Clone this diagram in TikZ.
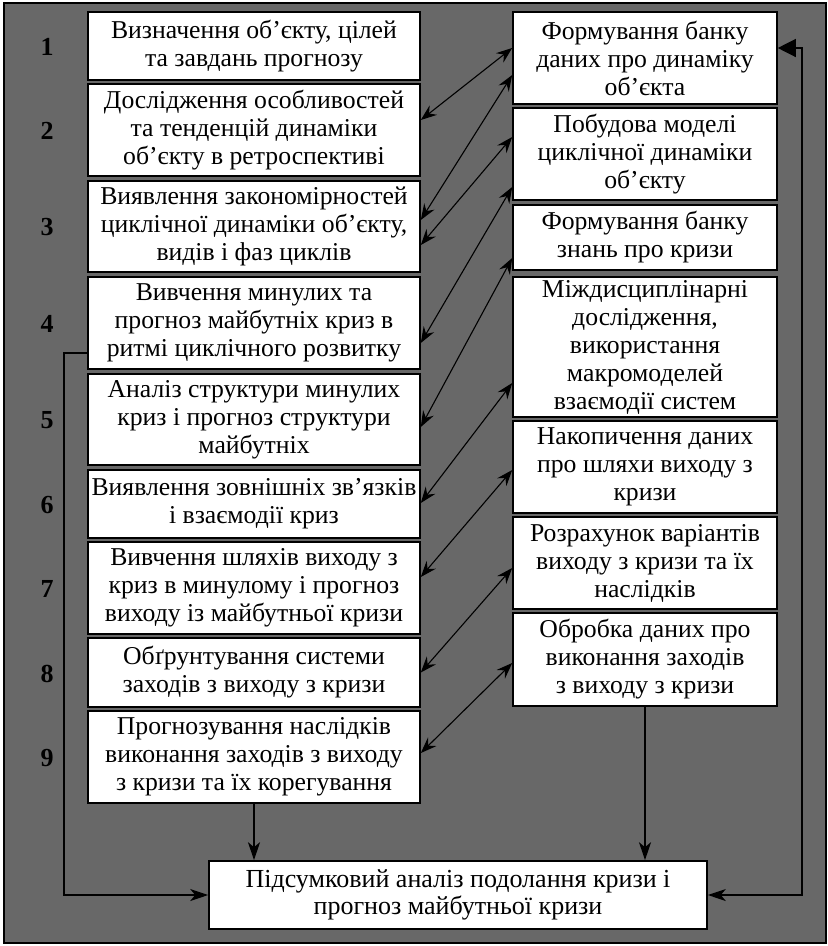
\documentclass[tikz,border=0pt]{standalone}
\usepackage{fontspec}
\setmainfont{Liberation Serif}
\usetikzlibrary{arrows.meta}
\definecolor{bggray}{RGB}{104,104,104}
\begin{document}
\begin{tikzpicture}[x=1pt,y=-1pt,
  box/.style={draw=black, line width=1.6pt, fill=white, align=center, inner sep=0pt,
    font=\fontsize{25.7}{28}\selectfont},
  lbox/.style={box, minimum width=332pt},
  rbox/.style={box, minimum width=264pt},
  num/.style={font=\fontsize{26}{28}\selectfont\bfseries, inner sep=0pt},
  dbl/.style={line width=1.1pt, {Stealth[length=16pt,width=12pt,inset=5.5pt]}-{Stealth[length=16pt,width=12pt,inset=5.5pt]}},
  vline/.style={line width=1.3pt, -{Stealth[length=18pt,width=12pt,inset=5pt]}}
]
\useasboundingbox (0,0) rectangle (828,946);
\fill[white] (0,0) rectangle (828,946);
\draw[fill=bggray, line width=1.5pt] (4,3) rectangle (826,943);

% left boxes
\node[lbox, minimum height=68pt] (B1) at (254,46) {Визначення об’єкту, цілей\\та завдань прогнозу};
\node[lbox, minimum height=92pt] (B2) at (254,130) {Дослідження особливостей\\та тенденцій динаміки\\об’єкту в ретроспективі};
\node[lbox, minimum height=91pt] (B3) at (254,226.5) {Виявлення закономірностей\\циклічної динаміки об’єкту,\\видів і фаз циклів};
\node[lbox, minimum height=92pt] (B4) at (254,323) {Вивчення минулих та\\прогноз майбутніх криз в\\ритмі циклічного розвитку};
\node[lbox, minimum height=91pt] (B5) at (254,419.5) {Аналіз структури минулих\\криз і прогноз структури\\майбутніх};
\node[lbox, minimum height=68pt] (B6) at (254,504) {Виявлення зовнішніх зв’язків\\і взаємодії криз};
\node[lbox, minimum height=92pt] (B7) at (254,588) {Вивчення шляхів виходу з\\криз в минулому і прогноз\\виходу із майбутньої кризи};
\node[lbox, minimum height=69pt] (B8) at (254,672.5) {Обґрунтування системи\\заходів з виходу з кризи};
\node[lbox, minimum height=92pt] (B9) at (254,757) {Прогнозування наслідків\\виконання заходів з виходу\\з кризи та їх корегування};

% numbers
\node[num] (n1) at (47,47) {1};
\node[num] (n2) at (47,131) {2};
\node[num] (n3) at (47,227.5) {3};
\node[num] (n4) at (47,324) {4};
\node[num] (n5) at (47,420.5) {5};
\node[num] (n6) at (47,505) {6};
\node[num] (n7) at (47,589) {7};
\node[num] (n8) at (47,673.5) {8};
\node[num] (n9) at (47,758) {9};

% right boxes
\node[rbox, minimum height=92pt] (R1) at (645,58) {Формування банку\\даних про динаміку\\об’єкта};
\node[rbox, minimum height=92pt] (R2) at (645,154) {Побудова моделі\\циклічної динаміки\\об’єкту};
\node[rbox, minimum height=65pt] (R3) at (645,237.5) {Формування банку\\знань про кризи};
\node[rbox, minimum height=140pt] (R4) at (645,347) {Міждисциплінарні\\дослідження,\\використання\\макромоделей\\взаємодії систем};
\node[rbox, minimum height=92pt] (R5) at (645,467) {Накопичення даних\\про шляхи виходу з\\кризи};
\node[rbox, minimum height=92pt] (R6) at (645,563) {Розрахунок варіантів\\виходу з кризи та їх\\наслідків};
\node[rbox, minimum height=93pt] (R7) at (645,659.5) {Обробка даних про\\виконання заходів\\з виходу з кризи};

% final box
\node[box, minimum width=498pt, minimum height=68pt, font=\fontsize{26}{27}\selectfont] (F) at (458,895) {Підсумковий аналіз подолання кризи і\\прогноз майбутньої кризи};

% double arrows
\draw[dbl] ([yshift=10pt]B2.east) -- ([yshift=10pt]R1.west);
\draw[dbl] ([yshift=6.5pt]B3.east) -- ([yshift=-17pt]R1.west);
\draw[dbl] ([yshift=-18.5pt]B3.east) -- ([yshift=17pt]R2.west);
\draw[dbl] ([yshift=-20pt]B4.east) -- ([yshift=-33pt]R2.west);
\draw[dbl] ([yshift=-7.5pt]B5.east) -- ([yshift=-20.5pt]R3.west);
\draw[dbl] ([yshift=1pt]B6.east) -- ([yshift=-36pt]R4.west);
\draw[dbl] ([yshift=11pt]B7.east) -- ([yshift=-3pt]R5.west);
\draw[dbl] (B8.east) -- ([yshift=-5pt]R6.west);
\draw[dbl] ([yshift=4pt]B9.east) -- ([yshift=-3.5pt]R7.west);

% vertical arrows into final box
\draw[vline] (B9.south) -- (B9.south |- F.north);
\draw[vline] (R7.south) -- (R7.south |- F.north);

% left feedback line
\coordinate (lx) at (64,0);
\draw[line width=1.3pt, -{Stealth[length=18pt,width=12pt,inset=5pt]}]
  ([yshift=-30pt]B4.west) -- ([yshift=-30pt]B4.west -| lx) |- (F.west);

% right feedback line
\coordinate (rx) at (802,0);
\draw[line width=1.3pt, {Stealth[length=18pt,width=12pt,inset=5pt]}-{Triangle[length=18pt,width=18pt]}]
  (F.east) -- (F.east -| rx) |- ([yshift=10pt]R1.east);
\end{tikzpicture}
\end{document}
